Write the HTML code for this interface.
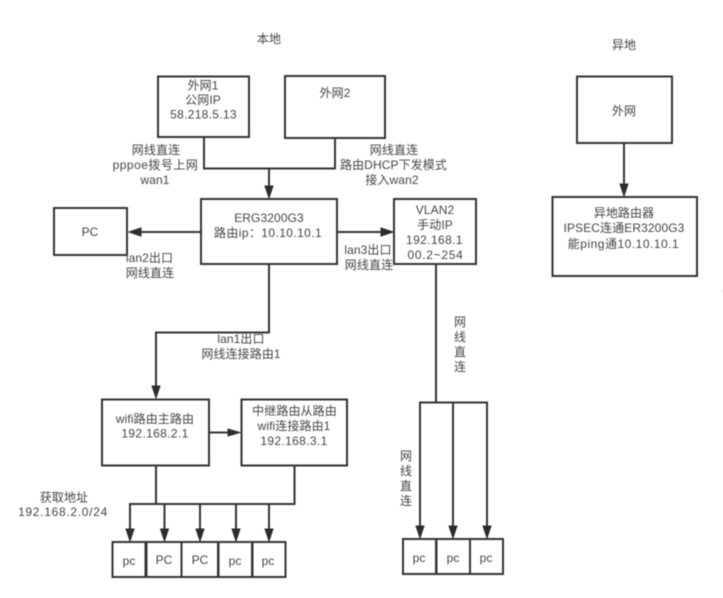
<!DOCTYPE html>
<html><head><meta charset="utf-8"><style>
html,body{margin:0;padding:0;background:#fff;width:723px;height:598px;overflow:hidden}
svg{display:block;filter:blur(.4px)}
text{font-family:"Liberation Sans","Noto Sans CJK SC",sans-serif;font-size:12px;fill:#444;text-anchor:middle;letter-spacing:.1px}
.b{fill:#fff;stroke:#333;stroke-width:2}
.l{fill:none;stroke:#333;stroke-width:2}
.a{fill:#2c2c2c;stroke:#2c2c2c;stroke-width:1}
</style></head><body>
<svg width="723" height="598" viewBox="0 0 723 598" xmlns="http://www.w3.org/2000/svg">
<path class="l" d="M204 137V168.500H335V138M269 168.500V192"/>
<path class="a" d="M269 198L265 186H273Z"/>
<path class="l" d="M201 232H134M337 232H388"/>
<path class="a" d="M129 232L141 228V236ZM393 232L381 228V236Z"/>
<path class="l" d="M269 264V332.500H156V392"/>
<path class="a" d="M156 398L152 386H160Z"/>
<path class="l" d="M436 264V402M420 532V402.500H487V532M453 402.500V532"/>
<path class="a" d="M420 538L416 526H424ZM453 538L449 526H457ZM487 538L483 526H491Z"/>
<path class="l" d="M209 432.500H235"/>
<path class="a" d="M240 432.500L228 429V436Z"/>
<path class="l" d="M156 465V504M294.500 465V504H130V535M164.500 504V535M200 504V535M236 504V535M269 504V535"/>
<path class="a" d="M130 541L126 529H134ZM164.500 541L160.500 529H168.500ZM200 541L196 529H204ZM236 541L232 529H240ZM269 541L265 529H273Z"/>
<path class="l" d="M624 143V190"/>
<path class="a" d="M624 196L620 184H628Z"/>

<rect class="b" x="158" y="76.500" width="91" height="60.500"/>
<rect class="b" x="285" y="76" width="100" height="62"/>
<rect class="b" x="201" y="199" width="136" height="65"/>
<rect class="b" x="54" y="208" width="73" height="47"/>
<rect class="b" x="394" y="199" width="82" height="65"/>
<rect class="b" x="102" y="399.500" width="107" height="66"/>
<rect class="b" x="241.500" y="399.500" width="105.500" height="66"/>
<rect class="b" x="112.500" y="542" width="33" height="35"/>
<rect class="b" x="146.500" y="542" width="35" height="35"/>
<rect class="b" x="181.500" y="542" width="36.500" height="35"/>
<rect class="b" x="218.500" y="542" width="33.500" height="35"/>
<rect class="b" x="252.500" y="542" width="33" height="35"/>
<rect class="b" x="403" y="539" width="33" height="35"/>
<rect class="b" x="436.500" y="539" width="33.500" height="35"/>
<rect class="b" x="470" y="539" width="33" height="35"/>
<rect class="b" x="577" y="76.500" width="95" height="66.500"/>
<rect class="b" x="552.500" y="197" width="144.500" height="79"/>

<text x="269" y="43">本地</text>
<text x="624" y="49">异地</text>
<text x="203" y="89.500">外网1</text>
<text x="203" y="104">公网IP</text>
<text x="203.500" y="118.500" style="letter-spacing:.3px">58.218.5.13</text>
<text x="335" y="97">外网2</text>
<text x="156" y="154">网线直连</text>
<text x="155.500" y="169" style="letter-spacing:.5px">pppoe拨号上网</text>
<text x="155" y="184">wan1</text>
<text x="394" y="154">网线直连</text>
<text x="393.500" y="169">路由DHCP下发模式</text>
<text x="392" y="184">接入wan2</text>
<text x="269" y="222">ERG3200G3</text>
<text x="268" y="237" style="letter-spacing:.4px">路由ip：10.10.10.1</text>
<text x="90" y="236">PC</text>
<text x="435" y="214">VLAN2</text>
<text x="435" y="229">手动IP</text>
<text x="434.500" y="244" style="letter-spacing:.4px">192.168.1</text>
<text x="435.500" y="259" style="letter-spacing:.7px">00.2~254</text>
<text x="149.500" y="262">lan2出口</text>
<text x="150" y="277">网线直连</text>
<text x="368" y="254">lan3出口</text>
<text x="369" y="269">网线直连</text>
<text x="241" y="343">lan1出口</text>
<text x="241" y="358">网线连接路由1</text>
<text x="460" y="326">网</text>
<text x="460" y="341">线</text>
<text x="460" y="356">直</text>
<text x="460" y="371">连</text>
<text x="406" y="460">网</text>
<text x="406" y="475">线</text>
<text x="406" y="490">直</text>
<text x="406" y="505">连</text>
<text x="155" y="423">wifi路由主路由</text>
<text x="155" y="437.500" style="letter-spacing:.35px">192.168.2.1</text>
<text x="294.500" y="415">中继路由从路由</text>
<text x="294" y="430">wifi连接路由1</text>
<text x="294" y="445" style="letter-spacing:.35px">192.168.3.1</text>
<text x="64" y="501.500">获取地址</text>
<text x="63" y="516" style="letter-spacing:.7px">192.168.2.0/24</text>
<text x="129" y="565">pc</text>
<text x="164" y="564">PC</text>
<text x="200" y="564">PC</text>
<text x="235" y="565">pc</text>
<text x="268" y="565">pc</text>
<text x="419" y="562">pc</text>
<text x="453" y="562">pc</text>
<text x="486" y="562">pc</text>
<text x="624" y="115">外网</text>
<text x="624" y="217">异地路由器</text>
<text x="624" y="232">IPSEC连通ER3200G3</text>
<text x="623.500" y="248" style="letter-spacing:.5px">能ping通10.10.10.1</text>
<text x="724" y="294">(</text>
</svg>
</body></html>
